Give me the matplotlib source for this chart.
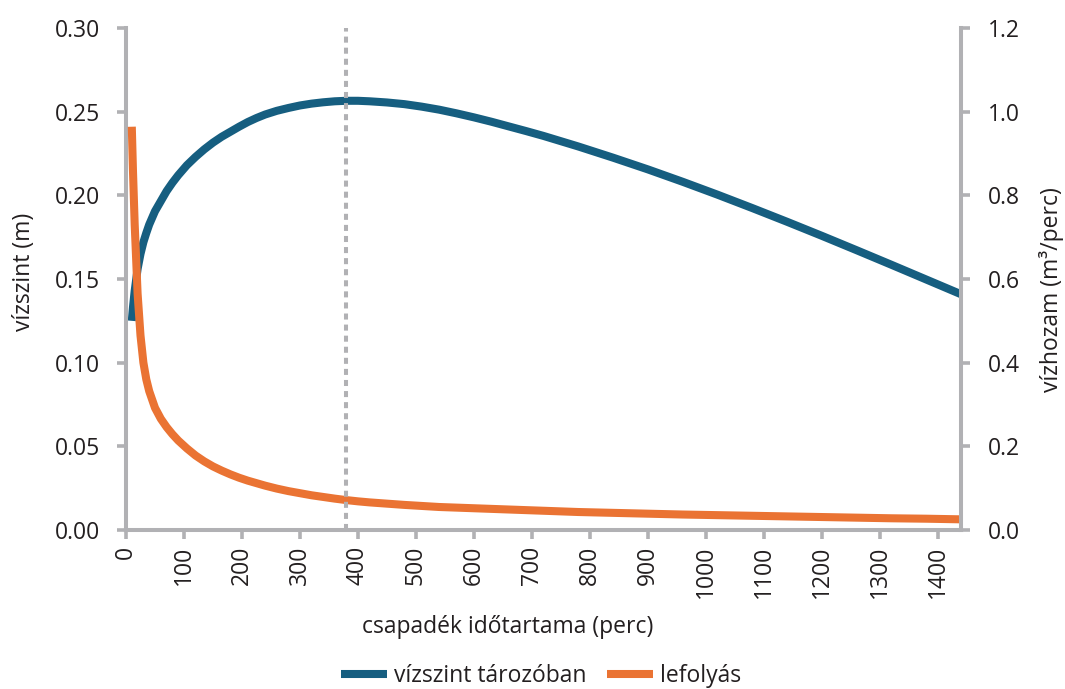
import numpy as np
import matplotlib.pyplot as plt
from matplotlib.ticker import FormatStrFormatter, MultipleLocator

plt.rcParams['font.family'] = ['Open Sans', 'DejaVu Sans']

# csapadék időtartama (perc)
duration = [10, 12, 15, 20, 25, 30, 35, 40, 50, 60, 70, 80, 90, 105, 120,
            135, 150, 165, 180, 195, 210, 225, 240, 260, 280, 300, 320, 340,
            360, 380, 400, 420, 450, 480, 510, 540, 570, 600, 630, 660, 690,
            720, 780, 840, 900, 960, 1020, 1080, 1140, 1200, 1260, 1320,
            1380, 1440]

# vízszint tározóban (m)
level = [0.125, 0.133, 0.143, 0.156, 0.165, 0.172, 0.1775, 0.1825, 0.1905,
         0.1965, 0.2025, 0.2075, 0.212, 0.218, 0.223, 0.2275, 0.2315, 0.235,
         0.238, 0.241, 0.2438, 0.2462, 0.2483, 0.2505, 0.2522, 0.2537,
         0.2548, 0.2556, 0.2562, 0.2565, 0.2565, 0.2562, 0.2555, 0.2545,
         0.2530, 0.2512, 0.2490, 0.2466, 0.2440, 0.2412, 0.2384, 0.2355,
         0.2292, 0.2225, 0.2155, 0.2081, 0.2004, 0.1924, 0.1842, 0.1758,
         0.1672, 0.1585, 0.1497, 0.1409]

# lefolyás (m3/perc)
runoff = [0.964, 0.86, 0.73, 0.565, 0.465, 0.400, 0.360, 0.332, 0.292,
          0.266, 0.246, 0.229, 0.214, 0.195, 0.178, 0.164, 0.152, 0.142,
          0.133, 0.125, 0.118, 0.112, 0.106, 0.099, 0.093, 0.088, 0.083,
          0.079, 0.075, 0.0715, 0.0685, 0.066, 0.063, 0.060, 0.0575, 0.055,
          0.0535, 0.052, 0.0505, 0.049, 0.0475, 0.046, 0.043, 0.041, 0.039,
          0.037, 0.0355, 0.034, 0.0325, 0.031, 0.0295, 0.028, 0.027, 0.0255]

peak_time = 380  # a vízszint maximuma

blue = '#165e80'
orange = '#ea7333'
grey = '#b1b1b4'
txt = '#231f20'

fig = plt.figure(figsize=(10.65, 6.89), dpi=100)
ax = fig.add_axes([126 / 1065, 1 - 530 / 689, 835 / 1065, 502 / 689])
ax2 = ax.twinx()

ax.plot(duration, level, color=blue, lw=5.8, solid_capstyle='butt',
        solid_joinstyle='round', label='vízszint tározóban')
ax2.plot(duration, runoff, color=orange, lw=5.8, solid_capstyle='butt',
         solid_joinstyle='round', label='lefolyás')
ax2.axvline(peak_time, color=grey, lw=2.9, dashes=(1.5, 1.25), zorder=5)

ax.set_xlim(0, 1440)
ax.set_ylim(0, 0.30)
ax2.set_ylim(0, 1.2)

ax.xaxis.set_major_locator(MultipleLocator(100))
ax.yaxis.set_major_locator(MultipleLocator(0.05))
ax.yaxis.set_major_formatter(FormatStrFormatter('%.2f'))
ax2.yaxis.set_major_locator(MultipleLocator(0.2))
ax2.yaxis.set_major_formatter(FormatStrFormatter('%.1f'))

for a in (ax, ax2):
    a.spines['top'].set_visible(False)
    for s in a.spines.values():
        s.set_color(grey)
        s.set_linewidth(2.9)
ax.spines['right'].set_visible(False)
ax2.spines['left'].set_visible(False)
ax2.spines['bottom'].set_visible(False)

ax.tick_params(axis='y', length=6.5, width=2.6, color=grey, pad=12,
               labelsize=16.5, labelcolor=txt)
ax.tick_params(axis='x', length=6.5, width=2.6, color=grey, pad=5,
               labelsize=16.5, labelcolor=txt, labelrotation=90)
ax2.tick_params(axis='y', length=6.5, width=2.6, color=grey, pad=13,
                labelsize=16.5, labelcolor=txt)
for lab in ax.get_xticklabels():
    lab.set_va('top')

fig.text(508 / 1065, 1 - 627 / 689, 'csapadék időtartama (perc)',
         ha='center', va='center', fontsize=16.5, color=txt)
fig.text(24 / 1065, 1 - 272 / 689, 'vízszint (m)', rotation=90,
         ha='center', va='center', fontsize=16.5, color=txt)
fig.text(1052 / 1065, 1 - 290 / 689, 'vízhozam (m³/perc)', rotation=90,
         ha='center', va='center', fontsize=16.5, color=txt)

h1, l1 = ax.get_legend_handles_labels()
h2, l2 = ax2.get_legend_handles_labels()
fig.legend(h1 + h2, l1 + l2, loc='center', ncol=2, frameon=False,
           bbox_to_anchor=(541 / 1065, 1 - 676 / 689), fontsize=16.5,
           handlelength=2.0, handletextpad=0.3, columnspacing=0.9,
           labelcolor=txt)

fig.savefig('out.png', dpi=100)
